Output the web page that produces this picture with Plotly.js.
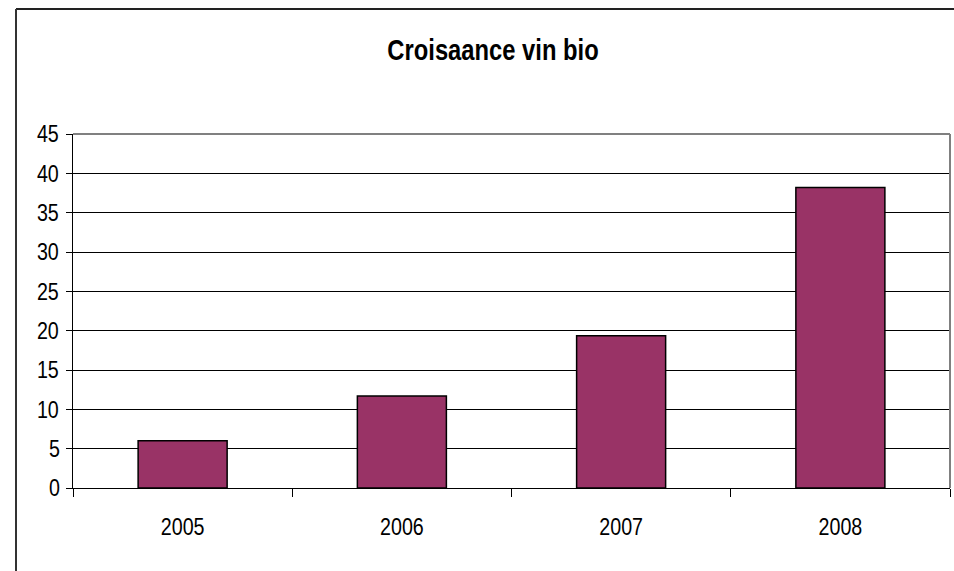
<!DOCTYPE html>
<html>
<head>
<meta charset="utf-8">
<script src="https://cdn.plot.ly/plotly-3.0.1.min.js"></script>
<style>
html,body{margin:0;padding:0;background:#fff;}
#chart{width:954px;height:571px;}
</style>
</head>
<body>
<div id="chart"></div>
<script>
const categories = ["2005", "2006", "2007", "2008"];
const values = [6, 11.7, 19.35, 38.2];
const yTicks = [0, 5, 10, 15, 20, 25, 30, 35, 40, 45];
const titleText = "Croisaance vin bio";

const FONT = '"Liberation Sans Narrow", "Arial Narrow", "Liberation Sans", Arial, sans-serif';
const NARROW = 0.82;

const trace = {
  type: 'bar',
  x: categories,
  y: values,
  marker: {color: '#993366', line: {color: '#000000', width: 1.5}},
  hoverinfo: 'x+y'
};

const layout = {
  width: 954,
  height: 571,
  margin: {l: 73, r: 4, t: 134, b: 83, pad: 0},
  paper_bgcolor: '#ffffff',
  plot_bgcolor: '#ffffff',
  bargap: 0.594,
  showlegend: false,
  font: {family: FONT, color: '#000000', size: 24},
  title: {
    text: '<b>' + titleText + '</b>',
    font: {family: FONT, size: 29, color: '#000000'},
    x: 0.5168, xref: 'container', xanchor: 'center',
    y: 1 - 50/571, yref: 'container', yanchor: 'middle'
  },
  xaxis: {
    type: 'category',
    showline: true, linecolor: '#000000', linewidth: 1,
    ticks: 'outside', tickson: 'boundaries', ticklen: 8, tickcolor: '#000000', tickwidth: 1,
    showgrid: false, zeroline: false,
    tickfont: {family: FONT, size: 24, color: '#000000'},
    ticklabelstandoff: 17,
    fixedrange: true
  },
  yaxis: {
    range: [0, 45],
    tickvals: yTicks,
    ticktext: yTicks.map(String),
    showline: true, linecolor: '#000000', linewidth: 1,
    ticks: 'outside', ticklen: 6, tickcolor: '#000000', tickwidth: 1,
    showgrid: true, gridcolor: '#000000', gridwidth: 1,
    zeroline: false,
    tickfont: {family: FONT, size: 24, color: '#000000'},
    fixedrange: true
  },
  shapes: [
    {type: 'line', xref: 'paper', yref: 'paper', x0: 0, x1: 1, y0: 1, y1: 1,
     line: {color: '#808080', width: 2}, layer: 'above'},
    {type: 'line', xref: 'paper', yref: 'paper', x0: 1, x1: 1, y0: 0, y1: 1,
     line: {color: '#808080', width: 2}, layer: 'above'},
    {type: 'line', xref: 'paper', yref: 'paper',
     x0: (16 - 73) / 877, x1: 2, y0: (488 - 9) / 354, y1: (488 - 9) / 354,
     line: {color: '#222222', width: 2}, layer: 'above'},
    {type: 'line', xref: 'paper', yref: 'paper',
     x0: (16 - 73) / 877, x1: (16 - 73) / 877, y0: -1, y1: (488 - 9) / 354,
     line: {color: '#333333', width: 2}, layer: 'above'}
  ]
};

function condense(gd) {
  // Emulate the narrow (Arial Narrow-like) typeface of the original by condensing text horizontally.
  const nodes = gd.querySelectorAll('.xtick text, .ytick text, .gtitle');
  nodes.forEach(function (t) {
    if (t.getAttribute('data-condensed')) return;
    const bb = t.getBBox();
    const cx = bb.x + bb.width / 2;
    const prev = t.getAttribute('transform') || '';
    t.setAttribute('transform', prev + ' translate(' + cx + ',0) scale(' + NARROW + ',1) translate(' + (-cx) + ',0)');
    t.setAttribute('data-condensed', '1');
  });
}

Plotly.newPlot('chart', [trace], layout, {displayModeBar: false, staticPlot: true}).then(function (gd) {
  condense(gd);
});
</script>
</body>
</html>
